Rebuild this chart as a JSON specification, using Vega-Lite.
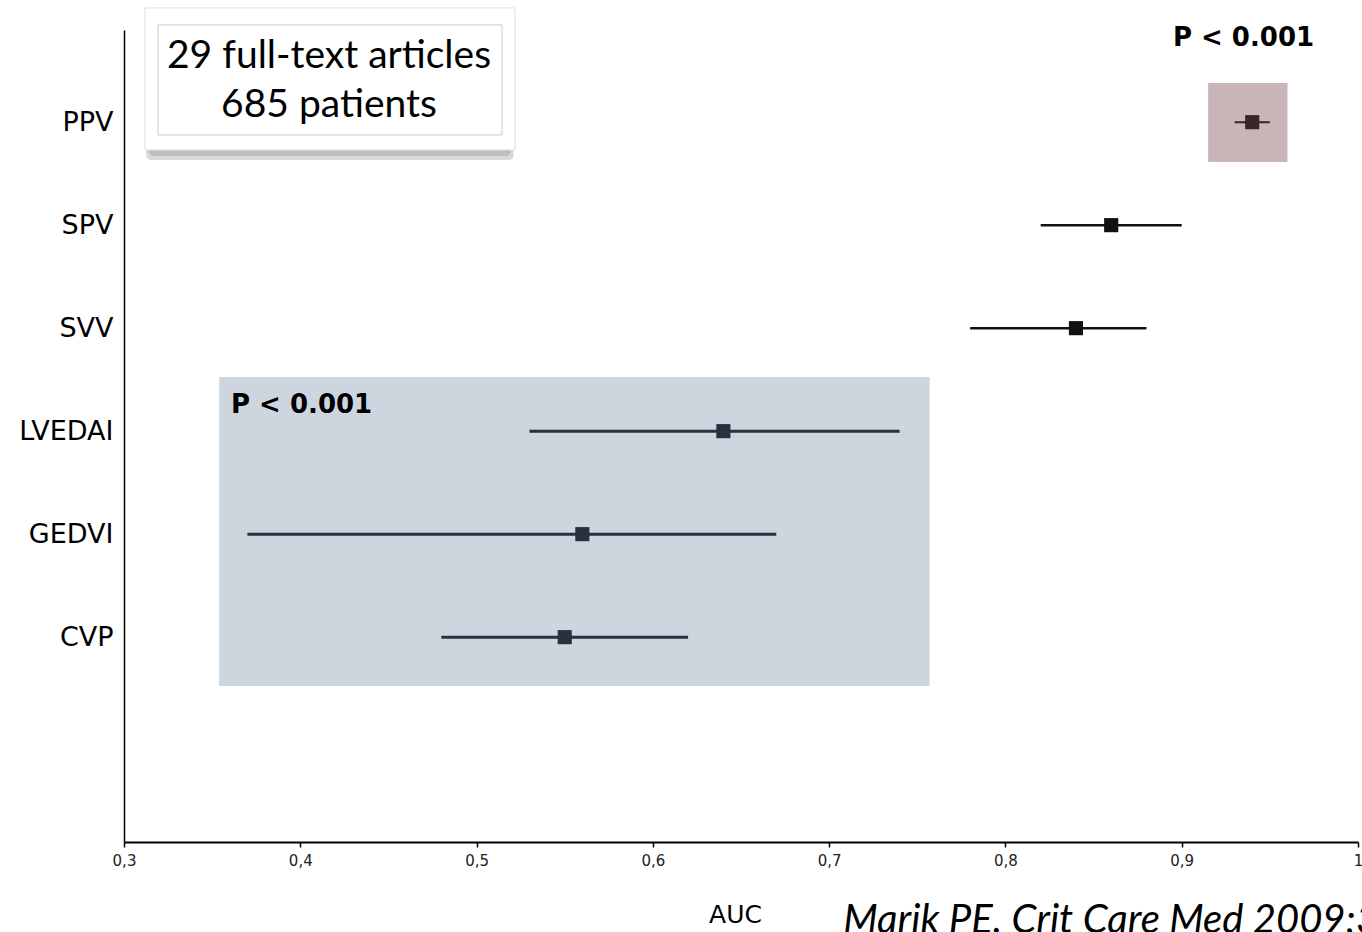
{
  "$schema": "https://vega.github.io/schema/vega-lite/v6.json",
  "width": 1234,
  "height": 812,
  "autosize": {"type": "none"},
  "padding": {"left": 124, "top": 30, "right": 4, "bottom": 90},
  "background": "white",
  "config": {"view": {"stroke": null}},
  "datasets": {
    "auc": [
      {"name": "PPV", "auc": 0.94, "lo": 0.93, "hi": 0.95, "group": "A"},
      {"name": "SPV", "auc": 0.86, "lo": 0.82, "hi": 0.90, "group": "B"},
      {"name": "SVV", "auc": 0.84, "lo": 0.78, "hi": 0.88, "group": "B"},
      {"name": "LVEDAI", "auc": 0.64, "lo": 0.53, "hi": 0.74, "group": "C"},
      {"name": "GEDVI", "auc": 0.56, "lo": 0.37, "hi": 0.67, "group": "C"},
      {"name": "CVP", "auc": 0.55, "lo": 0.48, "hi": 0.62, "group": "C"}
    ],
    "boxes": [
      {"kind": "static", "x": 0.354, "x2": 0.757, "y": 1.515, "y2": 4.515},
      {"kind": "dynamic", "x": 0.915, "x2": 0.96, "y": 6.602, "y2": 7.369},
      {"kind": "shadow", "x": 0.3125, "x2": 0.521, "y": 6.62, "y2": 6.85},
      {"kind": "shadow", "x": 0.314, "x2": 0.5195, "y": 6.66, "y2": 6.85},
      {"kind": "card", "x": 0.3119, "x2": 0.5218, "y": 6.718, "y2": 8.097},
      {"kind": "inner", "x": 0.3193, "x2": 0.5144, "y": 6.864, "y2": 7.932}
    ],
    "notes": [
      {"kind": "box", "label": "29 full-text articles", "x": 0.4163, "y": 7.63},
      {"kind": "box", "label": "685 patients", "x": 0.4163, "y": 7.155},
      {"kind": "p", "label": "P < 0.001", "x": 0.895, "y": 7.806},
      {"kind": "p", "label": "P < 0.001", "x": 0.3607, "y": 4.243},
      {"kind": "cite", "label": "Marik PE. Crit Care Med 2009;37:2642-2647", "x": 0.708, "y": -0.883}
    ]
  },
  "layer": [
    {
      "encoding": {
        "x": {"field": "x", "type": "quantitative", "scale": {"domain": [0.3, 1], "nice": false, "zero": false}},
        "y": {"field": "y", "type": "quantitative", "scale": {"domain": [0, 7.883], "nice": false, "zero": false}, "axis": null}
      },
      "layer": [
        {
          "data": {"name": "boxes"},
          "transform": [{"filter": "datum.kind == 'static'"}],
          "mark": {"type": "rect", "color": "#cdd5df"},
          "encoding": {"x2": {"field": "x2"}, "y2": {"field": "y2"}}
        },
        {
          "data": {"name": "boxes"},
          "transform": [{"filter": "datum.kind == 'dynamic'"}],
          "mark": {"type": "rect", "color": "#c9b4b7"},
          "encoding": {"x2": {"field": "x2"}, "y2": {"field": "y2"}}
        },
        {
          "data": {"name": "boxes"},
          "transform": [{"filter": "datum.kind == 'shadow'"}],
          "mark": {"type": "rect", "color": "#7a7a7a", "opacity": 0.28, "cornerRadius": 5},
          "encoding": {"x2": {"field": "x2"}, "y2": {"field": "y2"}}
        },
        {
          "data": {"name": "boxes"},
          "transform": [{"filter": "datum.kind == 'card'"}],
          "mark": {"type": "rect", "fill": "white", "stroke": "#dddddd", "strokeWidth": 1},
          "encoding": {"x2": {"field": "x2"}, "y2": {"field": "y2"}}
        },
        {
          "data": {"name": "boxes"},
          "transform": [{"filter": "datum.kind == 'inner'"}],
          "mark": {"type": "rect", "fill": null, "fillOpacity": 0, "stroke": "#cccccc", "strokeWidth": 1},
          "encoding": {"x2": {"field": "x2"}, "y2": {"field": "y2"}}
        },
        {
          "data": {"name": "notes"},
          "transform": [{"filter": "datum.kind == 'box'"}],
          "mark": {"type": "text", "font": "Lato", "fontSize": 39, "align": "center", "baseline": "middle", "color": "black"},
          "encoding": {"text": {"field": "label"}}
        },
        {
          "data": {"name": "notes"},
          "transform": [{"filter": "datum.kind == 'p'"}],
          "mark": {"type": "text", "font": "DejaVu Sans", "fontSize": 26, "fontWeight": "bold", "align": "left", "baseline": "middle", "color": "black"},
          "encoding": {"text": {"field": "label"}}
        },
        {
          "data": {"name": "notes"},
          "transform": [{"filter": "datum.kind == 'cite'"}],
          "mark": {"type": "text", "font": "Lato", "fontSize": 40, "fontStyle": "italic", "align": "left", "baseline": "alphabetic", "color": "black"},
          "encoding": {"text": {"field": "label"}}
        }
      ]
    },
    {
      "data": {"name": "auc"},
      "encoding": {
        "y": {
          "field": "name",
          "type": "nominal",
          "sort": null,
          "scale": {"type": "point", "domain": ["PPV", "SPV", "SVV", "LVEDAI", "GEDVI", "CVP", " "], "padding": 0.942, "align": 0.475},
          "axis": {"title": null, "ticks": false, "labelFont": "DejaVu Sans", "labelFontSize": 27, "labelColor": "black", "labelPadding": 11, "domainColor": "black", "domainWidth": 1.5, "grid": false}
        },
        "color": {"field": "group", "type": "nominal", "scale": {"domain": ["A", "B", "C"], "range": ["#3a2426", "#111111", "#28323d"]}, "legend": null}
      },
      "layer": [
        {
          "mark": {"type": "rule"},
          "encoding": {
            "x": {
              "field": "lo",
              "type": "quantitative",
              "scale": {"domain": [0.3, 1], "nice": false, "zero": false},
              "axis": {
                "values": [0.3, 0.4, 0.5, 0.6, 0.7, 0.8, 0.9, 1],
                "labelExpr": "datum.value == 1 ? '1' : replace(format(datum.value, '.1f'), '.', ',')",
                "labelFont": "DejaVu Sans",
                "labelFontSize": 15,
                "labelColor": "#222222",
                "labelPadding": 6,
                "labelFlush": false,
                "tickSize": 5,
                "tickColor": "black",
                "tickWidth": 1.5,
                "domainColor": "black",
                "domainWidth": 2,
                "grid": false,
                "title": "AUC",
                "titleFont": "DejaVu Sans",
                "titleFontSize": 25,
                "titleFontWeight": "normal",
                "titleColor": "black",
                "titleX": 611,
                "titleY": 60,
                "titleAlign": "center",
                "titleBaseline": "top"
              }
            },
            "x2": {"field": "hi"},
            "strokeWidth": {"field": "group", "type": "nominal", "scale": {"domain": ["A", "B", "C"], "range": [2, 3, 3.5]}, "legend": null}
          }
        },
        {
          "mark": {"type": "point", "shape": "square", "filled": true, "opacity": 1, "size": 200},
          "encoding": {
            "x": {"field": "auc", "type": "quantitative"}
          }
        }
      ]
    }
  ],
  "resolve": {"scale": {"y": "independent"}, "axis": {"y": "independent"}}
}
